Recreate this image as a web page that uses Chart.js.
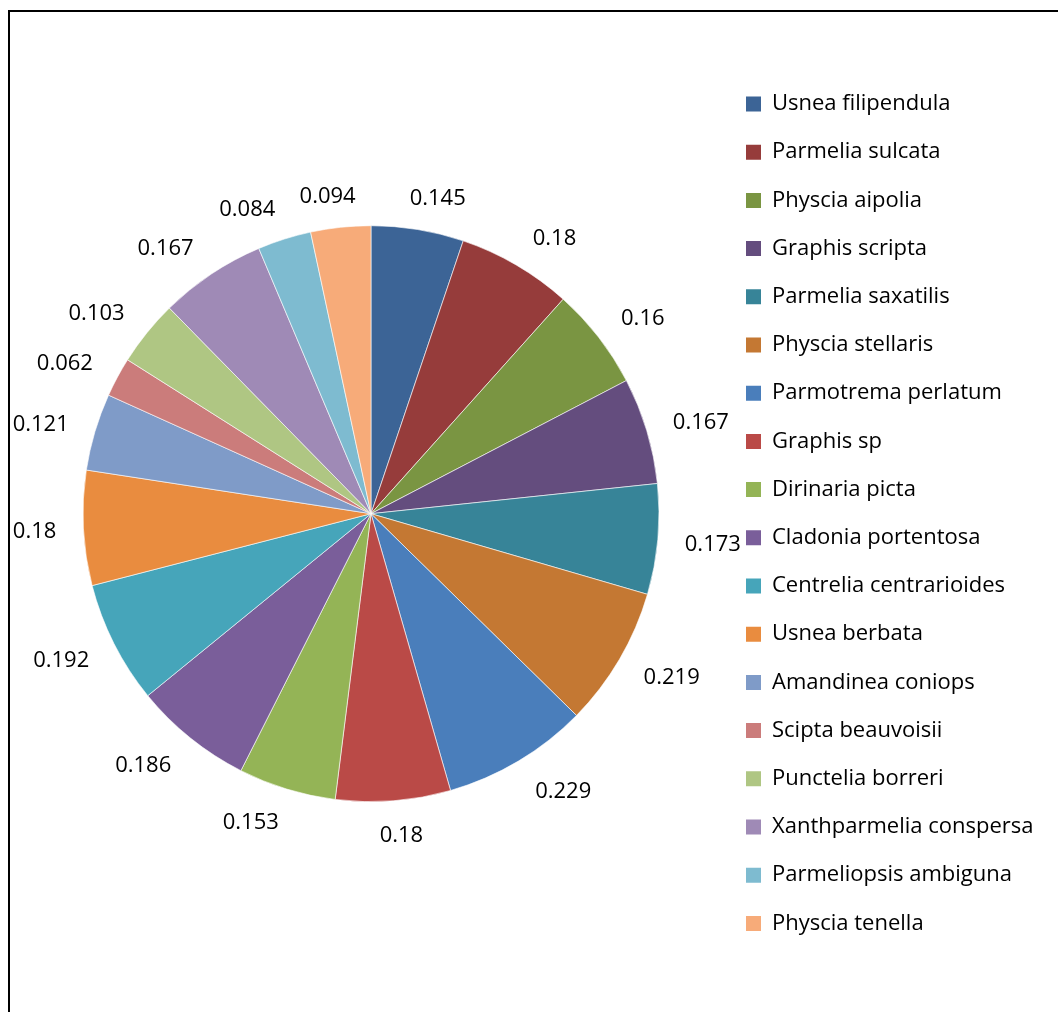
<!DOCTYPE html>
<html>
<head>
<meta charset="utf-8">
<script src="https://cdn.jsdelivr.net/npm/chart.js@4.4.1/dist/chart.umd.min.js"></script>
<style>
  html, body { margin: 0; padding: 0; background: #fff; overflow: hidden; }
  #wrap { position: relative; width: 1058px; height: 1012px; }
  #frame { position: absolute; left: 8px; top: 10px; width: 1200px; height: 1200px;
           border-top: 2px solid #000; border-left: 2px solid #000; pointer-events: none; }
</style>
</head>
<body>
<div id="wrap">
  <canvas id="lichenChart"></canvas>
  <div id="frame"></div>
</div>
<script>
// species (legend order) and their values
var categories = ['Usnea filipendula', 'Parmelia sulcata', 'Physcia aipolia', 'Graphis scripta',
    'Parmelia saxatilis', 'Physcia stellaris', 'Parmotrema perlatum', 'Graphis sp',
    'Dirinaria picta', 'Cladonia portentosa', 'Centrelia centrarioides', 'Usnea berbata',
    'Amandinea coniops', 'Scipta beauvoisii', 'Punctelia borreri', 'Xanthparmelia conspersa',
    'Parmeliopsis ambiguna', 'Physcia tenella'];
var values = [0.145, 0.18, 0.16, 0.167, 0.173, 0.219, 0.229, 0.18, 0.153,
    0.186, 0.192, 0.18, 0.121, 0.062, 0.103, 0.167, 0.084, 0.094];
var sliceColors = ['#3C6496', '#963C3B', '#7A9542', '#644D7E', '#378498', '#C47833',
    '#4A7EBB', '#BA4A47', '#94B456', '#7A5E9A', '#46A5BA', '#E98C3F',
    '#7F9BC8', '#CB7C7B', '#AFC683', '#9F8AB6', '#7EBBD0', '#F7AB79'];

var FONT = 'Open Sans';
var legendLeft = 719.8;   // legend box starts at legendLeft + padding

// value labels just outside each slice
var valueLabels = {
    id: 'valueLabels',
    afterDatasetsDraw: function(chart) {
        var ctx = chart.ctx;
        var meta = chart.getDatasetMeta(0);
        ctx.save();
        ctx.font = '22px "' + FONT + '"';
        ctx.fillStyle = '#000';
        ctx.textAlign = 'center';
        ctx.textBaseline = 'middle';
        meta.data.forEach(function(arc, i) {
            var p = arc.getProps(['x', 'y', 'startAngle', 'endAngle', 'outerRadius'], true);
            var mid = (p.startAngle + p.endAngle) / 2;
            var cx = Math.cos(mid), cy = Math.sin(mid);
            var text = String(values[i]);
            var w = ctx.measureText(text).width;
            var r = p.outerRadius + 21;
            var ox = (w / 2 + 6) * Math.max(-1, Math.min(1, cx * 3));
            var oy = 12 * cy + 2;
            ctx.fillText(text, p.x + r * cx + ox, p.y + r * cy + oy);
        });
        ctx.restore();
    }
};

var ctx = document.getElementById('lichenChart').getContext('2d');
var lichenChart = new Chart(ctx, {
    type: 'pie',
    data: {
        labels: categories,
        datasets: [{
            data: values,
            backgroundColor: sliceColors,
            borderColor: 'rgba(255, 255, 255, 0.6)',
            borderWidth: 1,
            radius: 288
        }]
    },
    options: {
        responsive: true,
        maintainAspectRatio: false,
        animation: false,
        layout: {
            padding: { left: 22.2, right: 0, top: 20, bottom: 4.6 }
        },
        plugins: {
            tooltip: { enabled: false },
            legend: {
                position: 'right',
                labels: {
                    boxWidth: 15,
                    boxHeight: 15,
                    padding: 26.2,
                    color: '#000',
                    font: { family: FONT, size: 22 },
                    generateLabels: function(chart) {
                        return Chart.overrides.pie.plugins.legend.labels.generateLabels(chart)
                            .map(function(item) { item.lineWidth = 0; return item; });
                    }
                }
            }
        }
    },
    plugins: [valueLabels]
});

// push the legend so it starts where the original one does
lichenChart.options.layout.padding.right = Math.max(0, 1058 - legendLeft - lichenChart.legend.width);
lichenChart.update();
</script>
</body>
</html>
